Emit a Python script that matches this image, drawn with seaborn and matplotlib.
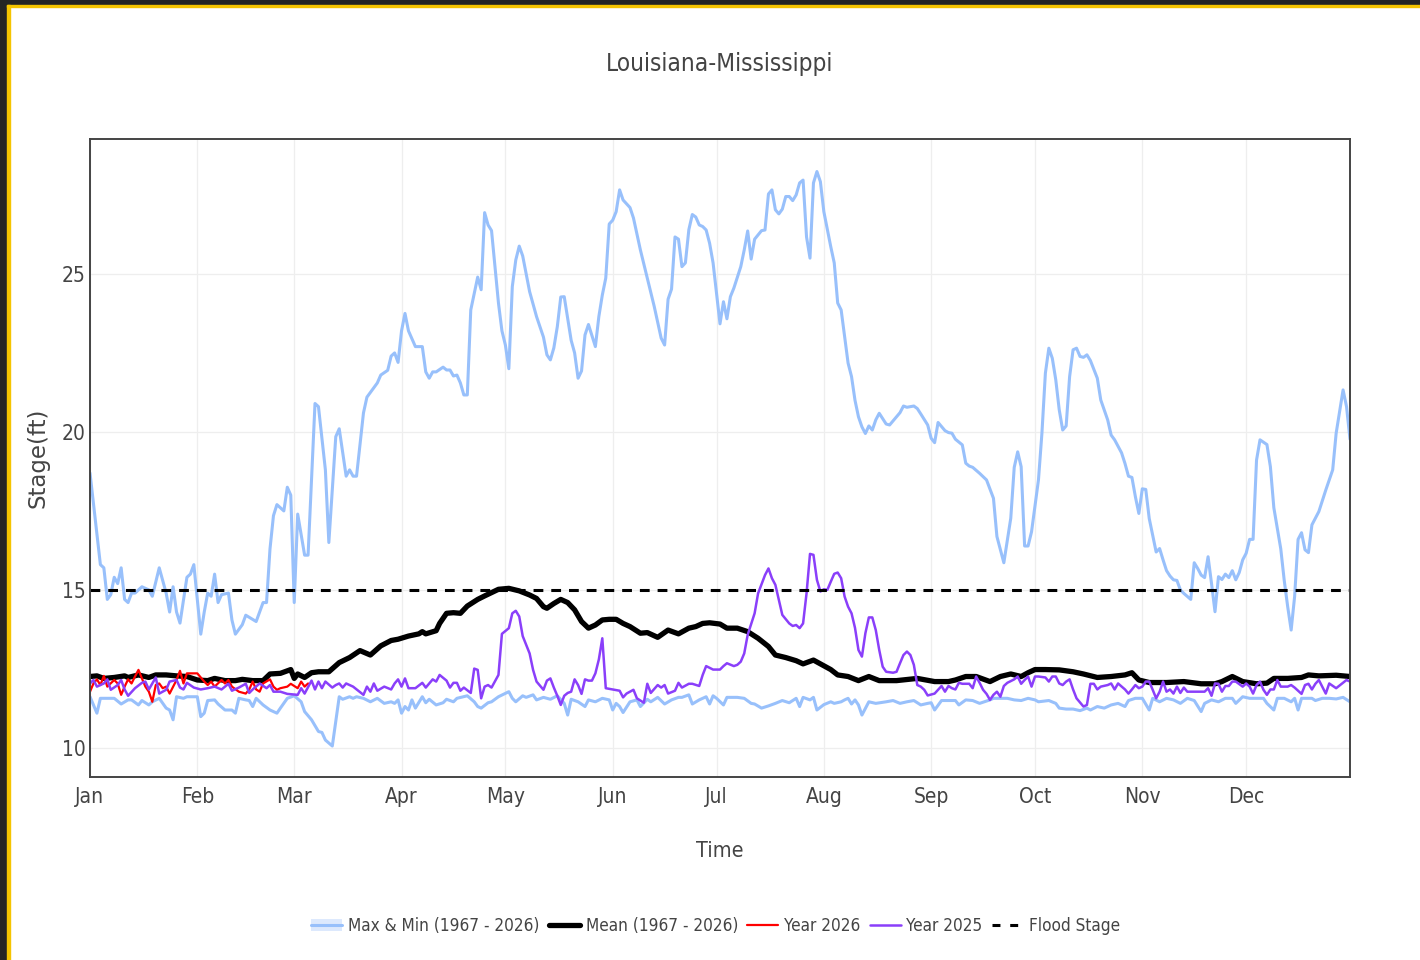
import pandas as pd
import matplotlib.pyplot as plt
import matplotlib.font_manager as fm
from matplotlib.lines import Line2D
from matplotlib.patches import Patch, Rectangle
from matplotlib.legend_handler import HandlerTuple
import seaborn as sns

# (day of year, stage in ft)
max_pts = [(0, 18.7), (3, 15.8), (4, 15.7), (5, 14.7), (6, 14.85), (7, 15.4), (8, 15.2), (9, 15.7), (10, 14.7),
           (11, 14.6), (12, 14.9), (13, 14.9), (15, 15.1), (17, 15.0), (18, 14.8), (20, 15.7), (22, 14.9), (23, 14.3),
           (24, 15.1), (25, 14.3), (26, 13.95), (28, 15.4), (29, 15.5), (30, 15.8), (32, 13.6), (33, 14.3), (34, 14.9),
           (35, 14.8), (36, 15.5), (37, 14.6), (38, 14.85), (40, 14.9), (41, 14.05), (42, 13.6), (44, 13.9), (45, 14.2),
           (48, 14.0), (50, 14.6), (51, 14.6), (52, 16.3), (53, 17.35), (54, 17.7), (56, 17.5), (57, 18.25), (58, 18.0),
           (59, 14.6), (60, 17.4), (62, 16.1), (63, 16.1), (65, 20.9), (66, 20.8), (68, 18.8), (69, 16.5), (71, 19.85),
           (72, 20.1), (74, 18.6), (75, 18.8), (76, 18.6), (77, 18.6), (79, 20.6), (80, 21.1), (82, 21.4), (83, 21.55),
           (84, 21.8), (86, 21.95), (87, 22.4), (88, 22.5), (89, 22.2), (90, 23.2), (91, 23.75), (92, 23.2), (94, 22.7),
           (96, 22.7), (97, 21.9), (98, 21.7), (99, 21.9), (100, 21.9), (102, 22.05), (103, 21.96), (104, 21.96),
           (105, 21.77), (106, 21.8), (107, 21.55), (108, 21.17), (109, 21.17), (110, 23.86), (112, 24.9), (113, 24.5),
           (114, 26.94), (115, 26.55), (116, 26.37), (118, 24.08), (119, 23.2), (120, 22.75), (121, 22.0), (122, 24.6),
           (123, 25.44), (124, 25.88), (125, 25.57), (127, 24.44), (129, 23.65), (131, 23.0), (132, 22.44), (133, 22.28),
           (134, 22.66), (135, 23.33), (136, 24.27), (137, 24.28), (139, 22.9), (140, 22.5), (141, 21.7), (142, 21.93),
           (143, 23.07), (144, 23.4), (146, 22.7), (147, 23.65), (148, 24.33), (149, 24.87), (150, 26.58), (151, 26.7),
           (152, 26.97), (153, 27.66), (154, 27.34), (156, 27.1), (157, 26.77), (159, 25.76), (161, 24.87), (163, 23.97),
           (165, 22.97), (166, 22.75), (167, 24.2), (168, 24.52), (169, 26.17), (170, 26.1), (171, 25.23), (172, 25.35),
           (173, 26.4), (174, 26.88), (175, 26.8), (176, 26.55), (177, 26.5), (178, 26.39), (179, 25.97), (180, 25.35),
           (182, 23.42), (183, 24.12), (184, 23.58), (185, 24.28), (186, 24.55), (188, 25.23), (189, 25.76), (190, 26.36),
           (191, 25.47), (192, 26.1), (194, 26.37), (195, 26.39), (196, 27.53), (197, 27.66), (198, 27.03), (199, 26.9),
           (200, 27.05), (201, 27.45), (202, 27.45), (203, 27.32), (204, 27.5), (205, 27.88), (206, 27.97), (207, 26.17),
           (208, 25.5), (209, 27.88), (210, 28.24), (211, 27.92), (212, 26.97), (214, 25.86), (215, 25.35), (216, 24.08),
           (217, 23.86), (218, 23.02), (219, 22.18), (220, 21.75), (221, 21.0), (222, 20.48), (223, 20.16), (224, 19.95),
           (225, 20.19), (226, 20.06), (227, 20.38), (228, 20.59), (230, 20.25), (231, 20.22), (234, 20.61), (235, 20.82),
           (236, 20.78), (238, 20.82), (239, 20.74), (240, 20.57), (242, 20.22), (243, 19.8), (244, 19.66), (245, 20.3),
           (247, 20.04), (248, 19.98), (249, 19.96), (250, 19.77), (252, 19.59), (253, 19.01), (254, 18.92), (255, 18.88),
           (257, 18.69), (259, 18.48), (261, 17.9), (262, 16.69), (264, 15.86), (266, 17.27), (267, 18.88), (268, 19.37),
           (269, 18.9), (270, 16.39), (271, 16.39), (272, 16.84), (274, 18.48), (275, 19.96), (276, 21.86), (277, 22.65),
           (278, 22.33), (279, 21.65), (280, 20.7), (281, 20.06), (282, 20.19), (283, 21.75), (284, 22.6), (285, 22.65),
           (286, 22.39), (287, 22.36), (288, 22.44), (289, 22.26), (291, 21.7), (292, 21.01), (294, 20.38), (295, 19.9),
           (296, 19.75), (298, 19.34), (299, 19.0), (300, 18.6), (301, 18.56), (302, 17.95), (303, 17.42), (304, 18.2),
           (305, 18.18), (306, 17.26), (308, 16.2), (309, 16.31), (310, 15.95), (311, 15.61), (312, 15.44), (313, 15.32),
           (314, 15.3), (315, 15.0), (316, 14.89), (318, 14.7), (319, 15.86), (320, 15.68), (321, 15.47), (322, 15.39),
           (323, 16.05), (324, 15.2), (325, 14.31), (326, 15.42), (327, 15.33), (328, 15.5), (329, 15.39), (330, 15.61),
           (331, 15.32), (332, 15.55), (333, 15.95), (334, 16.16), (335, 16.6), (336, 16.6), (337, 19.11), (338, 19.75),
           (340, 19.6), (341, 18.9), (342, 17.6), (344, 16.3), (345, 15.3), (346, 14.47), (347, 13.73), (348, 14.79),
           (349, 16.6), (350, 16.81), (351, 16.27), (352, 16.18), (353, 17.06), (355, 17.48), (357, 18.16), (359, 18.8),
           (360, 19.96), (362, 21.33), (363, 20.8), (364, 19.77)]

min_pts = [(0, 11.62), (2, 11.1), (3, 11.57), (5, 11.57), (7, 11.57), (9, 11.39), (11, 11.52), (12, 11.52), (14, 11.36),
           (15, 11.5), (17, 11.36), (18, 11.46), (20, 11.57), (22, 11.26), (23, 11.2), (24, 10.89), (25, 11.62),
           (27, 11.57), (28, 11.62), (31, 11.62), (32, 10.99), (33, 11.1), (34, 11.5), (36, 11.52), (37, 11.39),
           (39, 11.2), (41, 11.2), (42, 11.1), (43, 11.57), (45, 11.52), (46, 11.5), (47, 11.31), (48, 11.57),
           (50, 11.36), (52, 11.2), (54, 11.1), (55, 11.26), (57, 11.57), (59, 11.65), (61, 11.46), (62, 11.15),
           (64, 10.89), (66, 10.52), (67, 10.49), (68, 10.25), (70, 10.06), (72, 11.62), (73, 11.54), (75, 11.62),
           (76, 11.57), (77, 11.62), (79, 11.57), (81, 11.46), (83, 11.57), (85, 11.41), (87, 11.46), (88, 11.41),
           (89, 11.52), (90, 11.1), (91, 11.31), (92, 11.2), (93, 11.52), (94, 11.26), (96, 11.62), (97, 11.43),
           (98, 11.54), (100, 11.36), (102, 11.43), (103, 11.54), (105, 11.46), (106, 11.57), (109, 11.65), (111, 11.46),
           (112, 11.31), (113, 11.26), (115, 11.43), (116, 11.46), (118, 11.62), (121, 11.78), (122, 11.57), (123, 11.46),
           (125, 11.65), (126, 11.6), (128, 11.68), (129, 11.52), (131, 11.6), (133, 11.54), (135, 11.65), (137, 11.41),
           (138, 11.04), (139, 11.54), (141, 11.46), (143, 11.31), (144, 11.52), (146, 11.46), (148, 11.57), (150, 11.52),
           (151, 11.2), (152, 11.41), (153, 11.31), (154, 11.12), (156, 11.46), (158, 11.52), (159, 11.31), (161, 11.54),
           (162, 11.46), (164, 11.6), (166, 11.39), (168, 11.52), (170, 11.6), (171, 11.6), (173, 11.68), (174, 11.39),
           (176, 11.52), (178, 11.62), (179, 11.39), (180, 11.65), (181, 11.57), (183, 11.36), (184, 11.6), (187, 11.6),
           (189, 11.57), (191, 11.41), (192, 11.39), (194, 11.26), (196, 11.33), (198, 11.41), (200, 11.5), (202, 11.43),
           (204, 11.57), (205, 11.31), (206, 11.6), (208, 11.52), (209, 11.6), (210, 11.2), (212, 11.37), (214, 11.46),
           (215, 11.41), (217, 11.46), (218, 11.52), (219, 11.57), (220, 11.39), (221, 11.52), (222, 11.36), (223, 11.04),
           (225, 11.46), (227, 11.41), (230, 11.46), (232, 11.5), (234, 11.41), (236, 11.46), (238, 11.5), (240, 11.36),
           (242, 11.41), (243, 11.43), (244, 11.2), (246, 11.5), (248, 11.5), (250, 11.5), (251, 11.36), (253, 11.52),
           (255, 11.5), (257, 11.41), (260, 11.52), (261, 11.57), (263, 11.57), (265, 11.57), (267, 11.52), (269, 11.5),
           (271, 11.57), (273, 11.52), (274, 11.46), (277, 11.5), (279, 11.41), (280, 11.26), (282, 11.23), (284, 11.23),
           (286, 11.18), (288, 11.26), (289, 11.2), (291, 11.31), (293, 11.26), (295, 11.36), (297, 11.41), (299, 11.31),
           (300, 11.5), (302, 11.57), (304, 11.57), (306, 11.2), (307, 11.57), (309, 11.46), (311, 11.57), (313, 11.52),
           (315, 11.41), (317, 11.57), (319, 11.5), (321, 11.15), (322, 11.41), (324, 11.52), (326, 11.46), (328, 11.57),
           (330, 11.57), (331, 11.41), (333, 11.62), (335, 11.57), (337, 11.57), (339, 11.57), (340, 11.41), (342, 11.2),
           (343, 11.57), (345, 11.57), (347, 11.46), (348, 11.57), (349, 11.2), (350, 11.57), (351, 11.57), (353, 11.57),
           (354, 11.5), (356, 11.57), (358, 11.57), (360, 11.55), (362, 11.6), (364, 11.46)]

mean_pts = [(0, 12.26), (2, 12.28), (4, 12.2), (7, 12.23), (10, 12.28), (11, 12.23), (14, 12.31), (17, 12.23),
            (19, 12.31), (22, 12.31), (25, 12.28), (28, 12.26), (31, 12.15), (34, 12.13), (36, 12.2), (39, 12.13),
            (42, 12.13), (44, 12.17), (47, 12.13), (50, 12.13), (52, 12.34), (55, 12.36), (57, 12.44), (58, 12.48),
            (59, 12.2), (60, 12.34), (62, 12.23), (64, 12.38), (66, 12.41), (69, 12.41), (72, 12.7), (75, 12.86),
            (78, 13.08), (81, 12.94), (84, 13.23), (87, 13.4), (89, 13.44), (92, 13.54), (95, 13.61), (96, 13.68),
            (97, 13.61), (100, 13.71), (101, 13.94), (103, 14.26), (105, 14.28), (107, 14.26), (109, 14.49), (112, 14.7),
            (114, 14.81), (117, 14.97), (118, 15.02), (121, 15.05), (124, 14.97), (127, 14.84), (129, 14.73),
            (131, 14.47), (132, 14.42), (134, 14.57), (136, 14.7), (138, 14.6), (140, 14.37), (142, 14.0), (144, 13.79),
            (146, 13.89), (148, 14.05), (150, 14.07), (152, 14.07), (154, 13.94), (156, 13.84), (159, 13.63),
            (161, 13.65), (164, 13.5), (167, 13.73), (170, 13.61), (173, 13.79), (175, 13.84), (177, 13.94), (179, 13.96),
            (182, 13.92), (184, 13.79), (187, 13.79), (190, 13.68), (193, 13.47), (196, 13.21), (198, 12.94),
            (201, 12.86), (204, 12.76), (206, 12.66), (209, 12.78), (211, 12.66), (214, 12.48), (216, 12.31),
            (219, 12.26), (222, 12.13), (225, 12.26), (228, 12.13), (233, 12.13), (239, 12.2), (244, 12.1), (248, 12.1),
            (250, 12.15), (253, 12.26), (256, 12.26), (260, 12.1), (263, 12.26), (266, 12.34), (269, 12.26),
            (271, 12.38), (273, 12.48), (276, 12.48), (280, 12.47), (284, 12.41), (287, 12.34), (291, 12.23),
            (295, 12.26), (299, 12.31), (301, 12.38), (303, 12.15), (306, 12.07), (311, 12.07), (316, 12.1),
            (321, 12.03), (325, 12.03), (327, 12.1), (330, 12.26), (333, 12.1), (337, 12.03), (340, 12.05), (342, 12.2),
            (346, 12.2), (350, 12.23), (352, 12.31), (355, 12.28), (360, 12.3), (364, 12.26)]

y2025_pts = [(0, 12.04), (1, 12.15), (2, 11.94), (4, 12.04), (5, 12.17), (6, 11.84), (8, 11.99), (9, 12.15),
             (10, 11.85), (11, 11.65), (13, 11.89), (15, 12.06), (16, 12.1), (17, 11.85), (19, 12.23), (20, 11.72),
             (22, 11.84), (23, 12.1), (25, 12.15), (26, 11.91), (27, 11.85), (28, 12.06), (30, 11.91), (32, 11.85),
             (34, 11.89), (36, 11.94), (38, 11.85), (40, 12.03), (41, 11.81), (43, 11.91), (45, 12.03), (46, 11.74),
             (47, 11.85), (49, 12.04), (51, 11.89), (52, 11.99), (53, 11.78), (55, 11.78), (57, 11.71), (60, 11.68),
             (61, 11.89), (62, 11.72), (64, 12.13), (65, 11.85), (66, 12.1), (67, 11.89), (68, 12.1), (70, 11.91),
             (71, 11.99), (72, 12.04), (73, 11.91), (74, 12.04), (76, 11.94), (79, 11.68), (80, 11.94), (81, 11.78),
             (82, 12.04), (83, 11.81), (85, 11.94), (87, 11.85), (88, 12.04), (89, 12.17), (90, 11.94), (91, 12.2),
             (92, 11.89), (94, 11.89), (96, 12.06), (97, 11.91), (99, 12.17), (100, 12.1), (101, 12.31), (103, 12.13),
             (104, 11.91), (105, 12.06), (106, 12.06), (107, 11.81), (108, 11.91), (110, 11.74), (111, 12.51),
             (112, 12.47), (113, 11.57), (114, 11.94), (115, 11.99), (116, 11.91), (118, 12.31), (119, 13.61),
             (121, 13.79), (122, 14.26), (123, 14.34), (124, 14.16), (125, 13.54), (127, 12.99), (128, 12.47),
             (129, 12.1), (131, 11.84), (132, 12.13), (133, 12.2), (134, 11.91), (135, 11.65), (136, 11.36),
             (137, 11.65), (138, 11.74), (139, 11.78), (140, 12.17), (141, 11.99), (142, 11.71), (143, 12.17),
             (144, 12.13), (145, 12.13), (146, 12.36), (147, 12.8), (148, 13.47), (149, 11.89), (151, 11.85),
             (153, 11.81), (154, 11.6), (155, 11.72), (157, 11.84), (158, 11.57), (160, 11.43), (161, 12.03),
             (162, 11.74), (164, 11.99), (165, 11.91), (166, 11.99), (167, 11.72), (169, 11.81), (170, 12.06),
             (171, 11.91), (173, 12.03), (174, 12.03), (176, 11.96), (177, 12.31), (178, 12.59), (180, 12.48),
             (182, 12.48), (183, 12.59), (184, 12.68), (186, 12.59), (187, 12.63), (188, 12.73), (189, 12.99),
             (190, 13.58), (192, 14.26), (193, 14.89), (195, 15.47), (196, 15.68), (197, 15.37), (198, 15.16),
             (200, 14.21), (202, 13.94), (203, 13.86), (204, 13.89), (205, 13.79), (206, 13.94), (207, 14.89),
             (208, 16.14), (209, 16.11), (210, 15.32), (211, 14.95), (212, 15.02), (213, 15.0), (214, 15.26),
             (215, 15.51), (216, 15.55), (217, 15.37), (218, 14.79), (219, 14.47), (220, 14.26), (221, 13.8),
             (222, 13.1), (223, 12.89), (224, 13.63), (225, 14.13), (226, 14.13), (227, 13.73), (228, 13.1),
             (229, 12.57), (230, 12.41), (232, 12.38), (233, 12.41), (234, 12.68), (235, 12.94), (236, 13.05),
             (237, 12.94), (238, 12.63), (239, 11.99), (240, 11.94), (241, 11.84), (242, 11.66), (244, 11.72),
             (245, 11.84), (246, 11.96), (247, 11.78), (248, 11.96), (249, 11.89), (250, 11.85), (251, 12.06),
             (252, 12.03), (254, 12.03), (255, 11.89), (256, 12.26), (257, 12.06), (258, 11.84), (259, 11.71),
             (260, 11.52), (261, 11.68), (262, 11.78), (263, 11.62), (264, 11.96), (265, 12.06), (267, 12.17),
             (268, 12.26), (269, 12.03), (270, 12.15), (271, 12.26), (272, 11.94), (273, 12.26), (274, 12.26),
             (276, 12.23), (277, 12.1), (278, 12.26), (279, 12.26), (280, 12.04), (281, 11.99), (282, 12.1),
             (283, 12.17), (284, 11.85), (285, 11.57), (287, 11.31), (288, 11.36), (289, 12.03), (290, 12.03),
             (291, 11.85), (292, 11.94), (294, 11.99), (295, 12.04), (296, 11.85), (297, 12.04), (299, 11.85),
             (300, 11.72), (301, 11.85), (302, 11.99), (303, 11.89), (304, 11.94), (305, 12.1), (306, 12.1),
             (307, 11.84), (308, 11.57), (309, 11.78), (310, 12.1), (311, 11.78), (312, 11.85), (313, 11.72),
             (314, 11.94), (315, 11.74), (316, 11.91), (317, 11.78), (319, 11.78), (320, 11.78), (322, 11.78),
             (323, 11.89), (324, 11.65), (325, 12.04), (326, 12.03), (327, 11.78), (328, 11.96), (329, 11.96),
             (330, 12.1), (331, 12.1), (333, 11.94), (334, 12.04), (335, 11.94), (336, 11.72), (337, 11.99),
             (338, 12.1), (339, 11.84), (340, 11.68), (341, 11.85), (342, 11.85), (343, 12.15), (344, 11.94),
             (346, 11.94), (347, 11.99), (348, 11.91), (350, 11.71), (351, 11.99), (352, 12.03), (353, 11.85),
             (354, 12.03), (355, 12.15), (357, 11.72), (358, 12.04), (360, 11.89), (363, 12.15), (364, 12.1)]

y2026_pts = [(0, 11.78), (1, 12.04), (2, 12.17), (3, 11.99), (4, 12.28), (5, 11.94), (7, 12.15), (8, 12.04),
             (9, 11.68), (10, 11.94), (11, 12.17), (12, 12.04), (13, 12.26), (14, 12.47), (15, 12.2), (16, 11.94),
             (17, 11.78), (18, 11.46), (19, 11.99), (20, 12.04), (21, 11.89), (22, 11.94), (23, 11.72), (25, 12.15),
             (26, 12.44), (27, 12.04), (28, 12.36), (30, 12.36), (31, 12.36), (33, 12.1), (34, 11.99), (35, 12.1),
             (36, 11.94), (38, 12.15), (39, 12.04), (40, 12.15), (41, 11.94), (43, 11.78), (45, 11.72), (46, 11.85),
             (47, 12.1), (48, 11.85), (49, 11.78), (50, 12.04), (52, 12.17), (53, 11.94), (54, 11.84), (55, 11.89),
             (57, 11.94), (58, 12.03), (60, 11.89), (61, 12.1), (62, 11.94), (63, 12.04)]

flood_stage = 15.0
y_ticks = [10, 15, 20, 25]
month_labels = ['Jan', 'Feb', 'Mar', 'Apr', 'May', 'Jun', 'Jul', 'Aug', 'Sep', 'Oct', 'Nov', 'Dec']

base = pd.Timestamp('2025-01-01')


def to_frame(pts):
    df = pd.DataFrame(pts, columns=['day', 'stage'])
    df['date'] = base + pd.to_timedelta(df['day'], unit='D')
    return df


# look for a narrow sans font, the reference text is squeezed horizontally
narrow_name, narrow_stretch = None, 'normal'
for f in fm.fontManager.ttflist:
    path = f.fname.lower()
    if 'mono' in path or 'serif' in path or 'bold' in path or 'italic' in path or 'oblique' in path:
        continue
    if 'Narrow' in f.name or 'Condensed' in f.name:
        narrow_name, narrow_stretch = f.name, f.stretch
        break
    if f.stretch in ('condensed', 'semi-condensed', 'extra-condensed'):
        narrow_name, narrow_stretch = f.name, f.stretch
        break

sns.set_theme(style='white')
if narrow_name:
    plt.rcParams['font.family'] = [narrow_name, 'DejaVu Sans']
    plt.rcParams['font.stretch'] = narrow_stretch
    sz_tick, sz_lab, sz_title, sz_leg = 15, 15.5, 17.5, 12.3
else:
    plt.rcParams['font.family'] = ['Roboto', 'DejaVu Sans']
    sz_tick, sz_lab, sz_title, sz_leg = 13.5, 13.5, 15.5, 11

text_col = '#444444'
blue = '#98c0fb'
purple = '#8a3ffa'

fig = plt.figure(figsize=(14.2, 9.6), dpi=100)
ax = fig.add_axes([90 / 1420, 1 - 777 / 960, 1260 / 1420, 638 / 960])

for pts in (max_pts, min_pts):
    sns.lineplot(data=to_frame(pts), x='date', y='stage', ax=ax, color=blue, linewidth=2.2, errorbar=None)
sns.lineplot(data=to_frame(mean_pts), x='date', y='stage', ax=ax, color='black', linewidth=3.8, errorbar=None)
sns.lineplot(data=to_frame(y2026_pts), x='date', y='stage', ax=ax, color='#ff0000', linewidth=1.6, errorbar=None)
sns.lineplot(data=to_frame(y2025_pts), x='date', y='stage', ax=ax, color=purple, linewidth=1.8, errorbar=None)
ax.axhline(flood_stage, color='black', linewidth=2.2, dashes=(3.2, 2.6))

ax.set_xlim(base, base + pd.Timedelta(days=364))
ax.set_ylim(9.08, 29.27)
ax.set_yticks(y_ticks)
ax.set_xticks(pd.date_range(base, periods=12, freq='MS'))
ax.set_xticklabels(month_labels)
ax.grid(True, color='#eeeeee', linewidth=0.9)
ax.tick_params(axis='both', length=0, labelsize=sz_tick, labelcolor=text_col)
ax.tick_params(axis='x', pad=7)
ax.tick_params(axis='y', pad=3)
for s in ax.spines.values():
    s.set_color('#444444')
    s.set_linewidth(1.4)

ax.set_xlabel('Time', fontsize=sz_lab, color=text_col, labelpad=25)
ax.set_ylabel('Stage(ft)', fontsize=16.5, color=text_col, labelpad=9, family='DejaVu Sans', fontstretch='normal')
fig.text(0.507, 1 - 64 / 960, 'Louisiana-Mississippi', ha='center', va='center', fontsize=sz_title,
         color=text_col)

handles = [
    (Patch(facecolor='#dde9fd', edgecolor='none'), Line2D([], [], color=blue, linewidth=2.2)),
    Line2D([], [], color='black', linewidth=3.8),
    Line2D([], [], color='#ff0000', linewidth=1.6),
    Line2D([], [], color=purple, linewidth=1.8),
    Line2D([], [], color='black', linewidth=2.2, dashes=(2.6, 3.2)),
]
labels = ['Max & Min (1967 - 2026)', 'Mean (1967 - 2026)', 'Year 2026', 'Year 2025', 'Flood Stage']
fig.legend(handles, labels, loc='center', bbox_to_anchor=(0.504, 1 - 926 / 960), ncol=5, frameon=False,
           fontsize=sz_leg, labelcolor=text_col, handlelength=1.8, handletextpad=0.35, columnspacing=0.55,
           handler_map={tuple: HandlerTuple(ndivide=1)})

# dark screenshot edge with yellow frame line
fig.patches.append(Rectangle((0, 1 - 5 / 960), 1, 5 / 960, transform=fig.transFigure, color='#242424'))
fig.patches.append(Rectangle((0, 0), 7 / 1420, 1, transform=fig.transFigure, color='#242424'))
fig.patches.append(Rectangle((7 / 1420, 1 - 7 / 960), 1, 2 / 960, transform=fig.transFigure, color='#f5c400'))
fig.patches.append(Rectangle((7 / 1420, 0), 2.5 / 1420, 1 - 5 / 960, transform=fig.transFigure, color='#f5c400'))

fig.savefig('out.png', dpi=100)
